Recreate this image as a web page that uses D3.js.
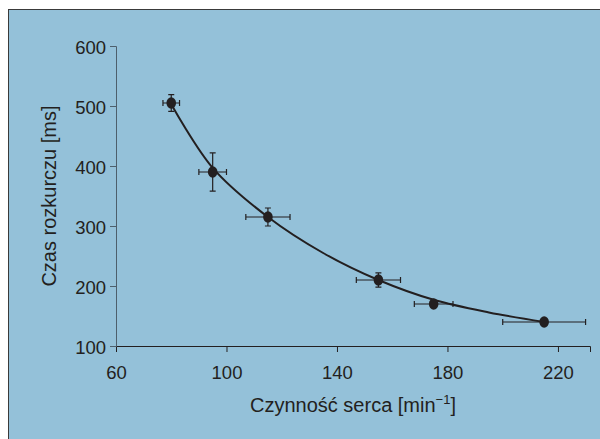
<!DOCTYPE html>
<html lang="pl">
<head>
    <meta charset="UTF-8">
    <title>Czas rozkurczu</title>
    <script src="https://cdn.jsdelivr.net/npm/d3@7"></script>
    <style>
        body { margin: 0; background: #ffffff; }
        text { font-family: "Liberation Sans", Arial, sans-serif; fill: #231f20; }
    </style>
</head>
<body>
    <div id="canvas"></div>

    <script>
        // measured points
        const heartRate = [80, 95, 115, 155, 175, 215];
        const relaxTime = [505, 390, 315, 210, 170, 140];
        const heartRateErr = [3, 5, 8, 8, 7, 15];
        const relaxTimeErr = [14, 32, 15, 12, 4, 3];

        // fitted curve
        const fitX = [80, 95, 115, 135, 155, 175, 195, 215];
        const fitY = [503, 397, 315, 255, 210, 177, 156, 140];

        const xTicks = [60, 100, 140, 180, 220];
        const yTicks = [100, 200, 300, 400, 500, 600];

        const width = 600;
        const height = 439;

        const svg = d3.select('#canvas')
            .append('svg')
            .attr('width', width)
            .attr('height', height);

        // background frame
        svg.append('rect')
            .attr('x', 8.5)
            .attr('y', 9.5)
            .attr('width', width)
            .attr('height', height)
            .attr('fill', '#94c1d9')
            .attr('stroke', '#3a3a3a')
            .attr('stroke-width', 1);

        const x = d3.scaleLinear().domain([60, 231.6]).range([116, 590]);
        const y = d3.scaleLinear().domain([100, 600]).range([346, 46]);

        // axes
        const xAxis = svg.append('g')
            .attr('transform', 'translate(0,346)')
            .call(d3.axisBottom(x).tickValues(xTicks).tickSizeOuter(0).tickSize(6).tickPadding(14));
        xAxis.selectAll('text').attr('font-size', 18.5).style('font-family', '"Liberation Sans", Arial, sans-serif');
        xAxis.selectAll('line, path').attr('stroke', '#231f20');
        xAxis.selectAll('.tick').filter(d => d === 60).select('line').remove();

        const yAxis = svg.append('g')
            .attr('transform', 'translate(116,0)')
            .call(d3.axisLeft(y).tickValues(yTicks).tickSize(6).tickPadding(4));
        yAxis.selectAll('text').attr('font-size', 18.5).attr('dy', '0.38em').style('font-family', '"Liberation Sans", Arial, sans-serif');
        yAxis.selectAll('line, path').attr('stroke', '#4d5f6c');

        // fitted curve
        const line = d3.line()
            .x(d => x(d[0]))
            .y(d => y(d[1]))
            .curve(d3.curveCatmullRom);

        svg.append('path')
            .datum(d3.zip(fitX, fitY))
            .attr('d', line)
            .attr('fill', 'none')
            .attr('stroke', '#231f20')
            .attr('stroke-width', 2);

        // error bars and points
        const pts = heartRate.map((v, i) => ({
            x: v, y: relaxTime[i], ex: heartRateErr[i], ey: relaxTimeErr[i]
        }));

        const cap = 3;
        const g = svg.append('g')
            .attr('stroke', '#231f20')
            .attr('stroke-width', 1.2)
            .attr('fill', 'none');

        pts.forEach(p => {
            const cx = x(p.x), cy = y(p.y);
            const x0 = x(p.x - p.ex), x1 = x(p.x + p.ex);
            const y0 = y(p.y + p.ey), y1 = y(p.y - p.ey);
            g.append('path')
                .attr('d', `M${x0},${cy}H${x1}M${x0},${cy - cap}V${cy + cap}M${x1},${cy - cap}V${cy + cap}`);
            g.append('path')
                .attr('d', `M${cx},${y0}V${y1}M${cx - cap},${y0}H${cx + cap}M${cx - cap},${y1}H${cx + cap}`);
        });

        svg.append('g')
            .selectAll('ellipse')
            .data(pts)
            .enter()
            .append('ellipse')
            .attr('cx', d => x(d.x))
            .attr('cy', d => y(d.y))
            .attr('rx', 4.8)
            .attr('ry', 5.8)
            .attr('fill', '#231f20');

        // axis titles
        const xTitle = svg.append('text')
            .attr('x', 353)
            .attr('y', 412)
            .attr('text-anchor', 'middle')
            .attr('font-size', 20);
        xTitle.append('tspan').text('Czynność serca [min');
        xTitle.append('tspan').attr('dy', -8).attr('font-size', 13).text('−1');
        xTitle.append('tspan').attr('dy', 8).text(']');

        svg.append('text')
            .attr('transform', 'translate(56,196) rotate(-90)')
            .attr('text-anchor', 'middle')
            .attr('font-size', 20)
            .text('Czas rozkurczu [ms]');
    </script>
</body>
</html>
